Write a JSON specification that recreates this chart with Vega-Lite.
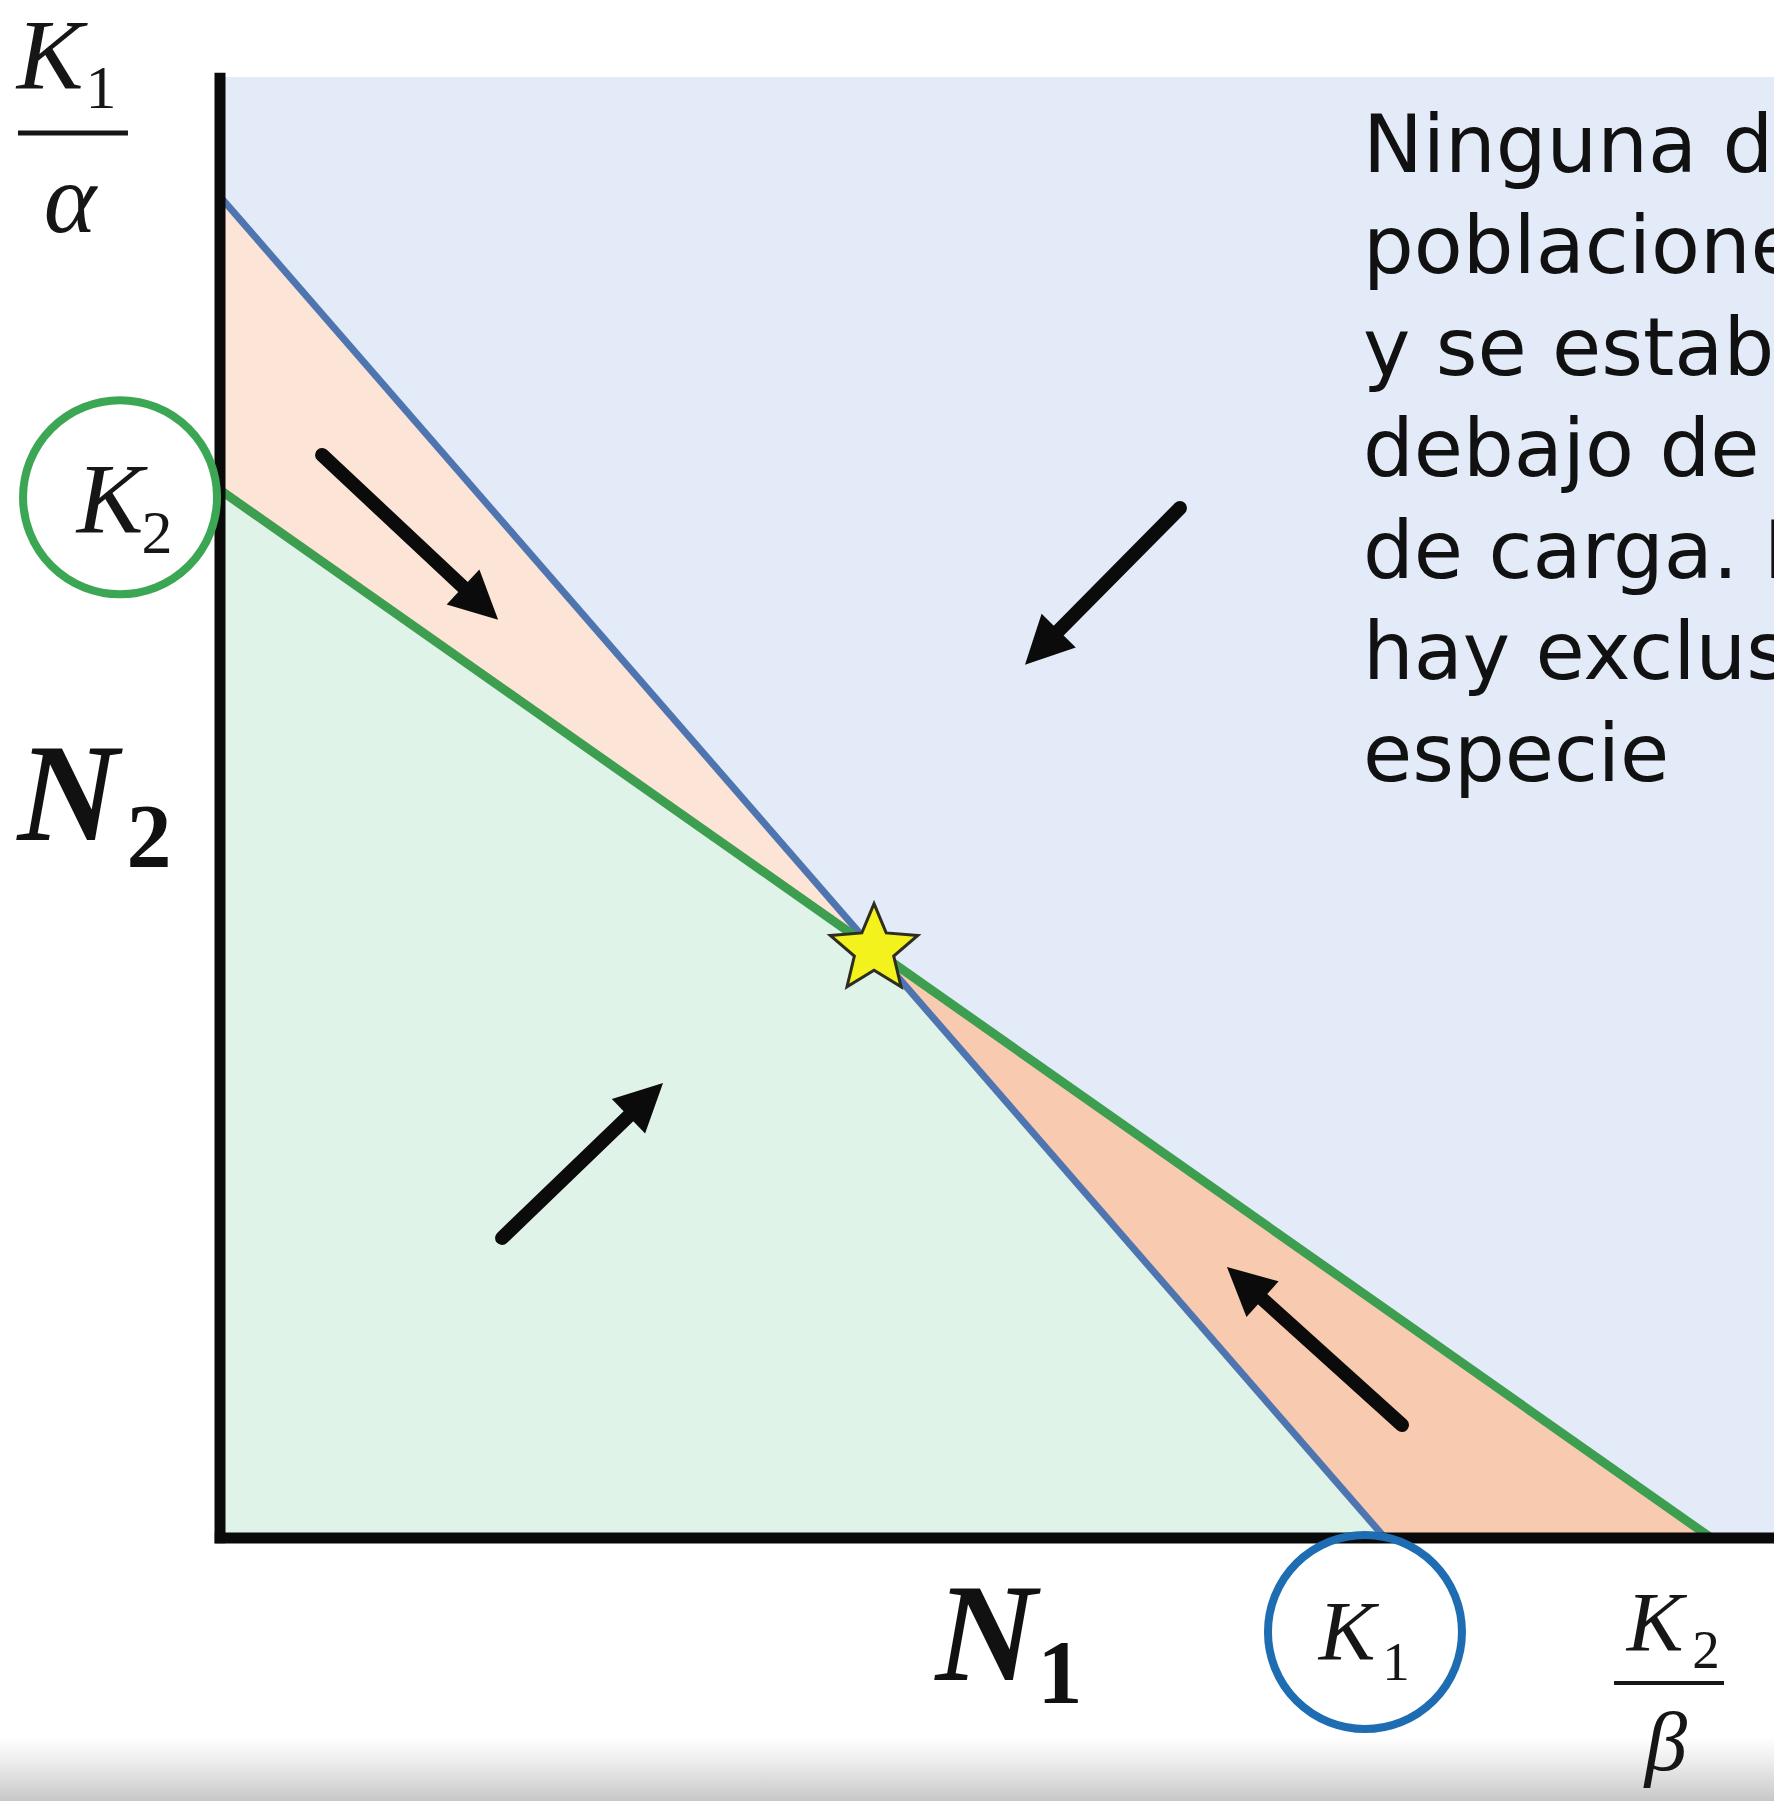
{
  "$schema": "https://vega.github.io/schema/vega-lite/v6.json",
  "width": 1554,
  "height": 1461,
  "autosize": {"type": "none"},
  "padding": {"left": 220, "top": 77, "right": 0, "bottom": 263},
  "background": "#ffffff",
  "view": {"fill": "#e2ebf7", "stroke": null},
  "data": {"values": [{}]},
  "datasets": {
    "zones": [
      {"zone": "both grow", "n1": 0, "top": 100, "bottom": 0},
      {"zone": "both grow", "n1": 56.14, "top": 56.14, "bottom": 0},
      {"zone": "both grow", "n1": 100, "top": 0, "bottom": 0},
      {"zone": "N1 grows, N2 falls", "n1": 0, "top": 128, "bottom": 100},
      {"zone": "N1 grows, N2 falls", "n1": 56.14, "top": 56.14, "bottom": 56.14},
      {"zone": "N1 falls, N2 grows", "n1": 56.14, "top": 56.14, "bottom": 56.14},
      {"zone": "N1 falls, N2 grows", "n1": 100, "top": 21.875, "bottom": 0},
      {"zone": "N1 falls, N2 grows", "n1": 128, "top": 0, "bottom": 0}
    ],
    "isoclines": [
      {"species": "N1", "n1": 0, "n2": 128},
      {"species": "N1", "n1": 100, "n2": 0},
      {"species": "N2", "n1": 0, "n2": 100},
      {"species": "N2", "n1": 128, "n2": 0}
    ],
    "trajectories": [
      {"n1_from": 8.76, "n2_from": 103.34, "n1_to": 20.86, "n2_to": 90.74, "heading": 43},
      {"n1_from": 82.4, "n2_from": 98.28, "n1_to": 71.99, "n2_to": 86.57, "heading": 134.6},
      {"n1_from": 24.21, "n2_from": 28.63, "n1_to": 35.06, "n2_to": 40.24, "heading": 316.1},
      {"n1_from": 101.46, "n2_from": 10.78, "n1_to": 89.49, "n2_to": 22.79, "heading": 222.1}
    ],
    "equilibrium": [{"n1": 56.14, "n2": 56.14}],
    "capacities": [
      {"species": "N2", "n1": -8.58, "n2": 99.3},
      {"species": "N1", "n1": 98.28, "n2": -8.97}
    ]
  },
  "layer": [
    {
      "data": {"name": "zones"},
      "mark": {"type": "area", "interpolate": "linear"},
      "encoding": {
        "x": {"field": "n1", "type": "quantitative", "scale": {"domain": [0, 133.39], "nice": false, "zero": false}, "axis": null},
        "y": {"field": "top", "type": "quantitative", "stack": null, "scale": {"domain": [0, 139.4], "nice": false, "zero": false}, "axis": null},
        "y2": {"field": "bottom"},
        "color": {
          "field": "zone", "type": "nominal", "legend": null,
          "scale": {"domain": ["both grow", "N1 grows, N2 falls", "N1 falls, N2 grows"], "range": ["#e0f3e8", "#fce4d6", "#f8cbb0"]}
        }
      }
    },
    {
      "mark": {
        "type": "rect",
        "fill": {"gradient": "linear", "x1": 0, "y1": 0, "x2": 0, "y2": 1,
          "stops": [{"offset": 0, "color": "#ffffff"}, {"offset": 0.4, "color": "#ececec"}, {"offset": 1, "color": "#c6c6c6"}]}
      },
      "encoding": {
        "x": {"datum": -18.9, "type": "quantitative", "scale": {"domain": [0, 133.39], "nice": false, "zero": false}, "axis": null},
        "x2": {"datum": 133.39},
        "y": {"datum": -19.0, "type": "quantitative", "scale": {"domain": [0, 139.4], "nice": false, "zero": false}, "axis": null},
        "y2": {"datum": -25.2}
      }
    },
    {
      "data": {"name": "isoclines"},
      "transform": [{"filter": "datum.species === 'N1'"}],
      "mark": {"type": "line", "color": "#4f75b0", "strokeWidth": 7},
      "encoding": {
        "x": {"field": "n1", "type": "quantitative", "scale": {"domain": [0, 133.39], "nice": false, "zero": false}, "axis": null},
        "y": {"field": "n2", "type": "quantitative", "scale": {"domain": [0, 139.4], "nice": false, "zero": false}, "axis": null}
      }
    },
    {
      "data": {"name": "isoclines"},
      "transform": [{"filter": "datum.species === 'N2'"}],
      "mark": {"type": "line", "color": "#3d9e50", "strokeWidth": 9},
      "encoding": {
        "x": {"field": "n1", "type": "quantitative", "scale": {"domain": [0, 133.39], "nice": false, "zero": false}, "axis": null},
        "y": {"field": "n2", "type": "quantitative", "scale": {"domain": [0, 139.4], "nice": false, "zero": false}, "axis": null}
      }
    },
    {
      "mark": {"type": "rule", "color": "#0a0a0a", "strokeWidth": 11},
      "encoding": {
        "x": {"datum": 0, "type": "quantitative", "scale": {"domain": [0, 133.39], "nice": false, "zero": false}, "axis": null},
        "y": {"datum": -0.5, "type": "quantitative", "scale": {"domain": [0, 139.4], "nice": false, "zero": false}, "axis": null},
        "y2": {"datum": 139.8}
      }
    },
    {
      "mark": {"type": "rule", "color": "#0a0a0a", "strokeWidth": 11},
      "encoding": {
        "x": {"datum": -0.45, "type": "quantitative", "scale": {"domain": [0, 133.39], "nice": false, "zero": false}, "axis": null},
        "x2": {"datum": 133.39},
        "y": {"datum": 0, "type": "quantitative", "scale": {"domain": [0, 139.4], "nice": false, "zero": false}, "axis": null}
      }
    },
    {
      "data": {"name": "trajectories"},
      "mark": {"type": "rule", "color": "#0b0b0b", "strokeWidth": 14, "strokeCap": "round"},
      "encoding": {
        "x": {"field": "n1_from", "type": "quantitative", "scale": {"domain": [0, 133.39], "nice": false, "zero": false}, "axis": null},
        "y": {"field": "n2_from", "type": "quantitative", "scale": {"domain": [0, 139.4], "nice": false, "zero": false}, "axis": null},
        "x2": {"field": "n1_to"},
        "y2": {"field": "n2_to"}
      }
    },
    {
      "data": {"name": "trajectories"},
      "mark": {"type": "point", "shape": "M0,-1L2,0L0,1Z", "size": 2304, "filled": true, "color": "#0b0b0b", "opacity": 1},
      "encoding": {
        "x": {"field": "n1_to", "type": "quantitative", "scale": {"domain": [0, 133.39], "nice": false, "zero": false}, "axis": null},
        "y": {"field": "n2_to", "type": "quantitative", "scale": {"domain": [0, 139.4], "nice": false, "zero": false}, "axis": null},
        "angle": {"field": "heading", "type": "quantitative", "scale": null}
      }
    },
    {
      "data": {"name": "capacities"},
      "mark": {"type": "point", "shape": "circle", "size": 37636, "filled": false, "strokeWidth": 8, "opacity": 1},
      "encoding": {
        "x": {"field": "n1", "type": "quantitative", "scale": {"domain": [0, 133.39], "nice": false, "zero": false}, "axis": null},
        "y": {"field": "n2", "type": "quantitative", "scale": {"domain": [0, 139.4], "nice": false, "zero": false}, "axis": null},
        "stroke": {"field": "species", "type": "nominal", "legend": null, "scale": {"domain": ["N1", "N2"], "range": ["#1e6db3", "#3ba653"]}}
      }
    },
    {
      "data": {"name": "equilibrium"},
      "mark": {
        "type": "point",
        "shape": "M0,-1L0.2645,-0.364L0.951,-0.309L0.428,0.139L0.588,0.809L0,0.45L-0.588,0.809L-0.428,0.139L-0.951,-0.309L-0.2645,-0.364Z",
        "size": 8464, "filled": true, "fill": "#f3f21c", "stroke": "#2d2d20", "strokeWidth": 3, "opacity": 1
      },
      "encoding": {
        "x": {"field": "n1", "type": "quantitative", "scale": {"domain": [0, 133.39], "nice": false, "zero": false}, "axis": null},
        "y": {"field": "n2", "type": "quantitative", "scale": {"domain": [0, 139.4], "nice": false, "zero": false}, "axis": null}
      }
    },
    {
      "mark": {"type": "text", "text": "K", "font": "Liberation Serif", "fontStyle": "italic", "fontSize": 100, "align": "center", "baseline": "alphabetic", "color": "#161616"},
      "encoding": {
        "x": {"datum": -14.59, "type": "quantitative", "scale": {"domain": [0, 133.39], "nice": false, "zero": false}, "axis": null},
        "y": {"datum": 138.36, "type": "quantitative", "scale": {"domain": [0, 139.4], "nice": false, "zero": false}, "axis": null}
      }
    },
    {
      "mark": {"type": "text", "text": "1", "font": "Liberation Serif", "fontSize": 62, "align": "center", "baseline": "alphabetic", "color": "#161616"},
      "encoding": {
        "x": {"datum": -10.21, "type": "quantitative", "scale": {"domain": [0, 133.39], "nice": false, "zero": false}, "axis": null},
        "y": {"datum": 136.45, "type": "quantitative", "scale": {"domain": [0, 139.4], "nice": false, "zero": false}, "axis": null}
      }
    },
    {
      "mark": {"type": "rule", "color": "#161616", "strokeWidth": 5},
      "encoding": {
        "x": {"datum": -17.34, "type": "quantitative", "scale": {"domain": [0, 133.39], "nice": false, "zero": false}, "axis": null},
        "x2": {"datum": -7.9},
        "y": {"datum": 134.06, "type": "quantitative", "scale": {"domain": [0, 139.4], "nice": false, "zero": false}, "axis": null}
      }
    },
    {
      "mark": {"type": "text", "text": "α", "font": "Liberation Serif", "fontStyle": "italic", "fontSize": 100, "align": "center", "baseline": "alphabetic", "color": "#161616"},
      "encoding": {
        "x": {"datum": -12.88, "type": "quantitative", "scale": {"domain": [0, 133.39], "nice": false, "zero": false}, "axis": null},
        "y": {"datum": 124.62, "type": "quantitative", "scale": {"domain": [0, 139.4], "nice": false, "zero": false}, "axis": null}
      }
    },
    {
      "mark": {"type": "text", "text": "K", "font": "Liberation Serif", "fontStyle": "italic", "fontSize": 100, "align": "center", "baseline": "alphabetic", "color": "#161616"},
      "encoding": {
        "x": {"datum": -9.44, "type": "quantitative", "scale": {"domain": [0, 133.39], "nice": false, "zero": false}, "axis": null},
        "y": {"datum": 96.0, "type": "quantitative", "scale": {"domain": [0, 139.4], "nice": false, "zero": false}, "axis": null}
      }
    },
    {
      "mark": {"type": "text", "text": "2", "font": "Liberation Serif", "fontSize": 62, "align": "center", "baseline": "alphabetic", "color": "#161616"},
      "encoding": {
        "x": {"datum": -5.41, "type": "quantitative", "scale": {"domain": [0, 133.39], "nice": false, "zero": false}, "axis": null},
        "y": {"datum": 94.0, "type": "quantitative", "scale": {"domain": [0, 139.4], "nice": false, "zero": false}, "axis": null}
      }
    },
    {
      "mark": {"type": "text", "text": "N", "font": "Liberation Serif", "fontStyle": "italic", "fontWeight": "bold", "fontSize": 140, "align": "center", "baseline": "alphabetic", "color": "#111111"},
      "encoding": {
        "x": {"datum": -13.05, "type": "quantitative", "scale": {"domain": [0, 133.39], "nice": false, "zero": false}, "axis": null},
        "y": {"datum": 66.6, "type": "quantitative", "scale": {"domain": [0, 139.4], "nice": false, "zero": false}, "axis": null}
      }
    },
    {
      "mark": {"type": "text", "text": "2", "font": "Liberation Serif", "fontWeight": "bold", "fontSize": 90, "align": "center", "baseline": "alphabetic", "color": "#111111"},
      "encoding": {
        "x": {"datum": -6.09, "type": "quantitative", "scale": {"domain": [0, 133.39], "nice": false, "zero": false}, "axis": null},
        "y": {"datum": 64.03, "type": "quantitative", "scale": {"domain": [0, 139.4], "nice": false, "zero": false}, "axis": null}
      }
    },
    {
      "mark": {"type": "text", "text": "N", "font": "Liberation Serif", "fontStyle": "italic", "fontWeight": "bold", "fontSize": 140, "align": "center", "baseline": "alphabetic", "color": "#111111"},
      "encoding": {
        "x": {"datum": 65.75, "type": "quantitative", "scale": {"domain": [0, 133.39], "nice": false, "zero": false}, "axis": null},
        "y": {"datum": -13.55, "type": "quantitative", "scale": {"domain": [0, 139.4], "nice": false, "zero": false}, "axis": null}
      }
    },
    {
      "mark": {"type": "text", "text": "1", "font": "Liberation Serif", "fontWeight": "bold", "fontSize": 90, "align": "center", "baseline": "alphabetic", "color": "#111111"},
      "encoding": {
        "x": {"datum": 72.1, "type": "quantitative", "scale": {"domain": [0, 133.39], "nice": false, "zero": false}, "axis": null},
        "y": {"datum": -15.74, "type": "quantitative", "scale": {"domain": [0, 139.4], "nice": false, "zero": false}, "axis": null}
      }
    },
    {
      "mark": {"type": "text", "text": "K", "font": "Liberation Serif", "fontStyle": "italic", "fontSize": 85, "align": "center", "baseline": "alphabetic", "color": "#161616"},
      "encoding": {
        "x": {"datum": 96.74, "type": "quantitative", "scale": {"domain": [0, 133.39], "nice": false, "zero": false}, "axis": null},
        "y": {"datum": -11.64, "type": "quantitative", "scale": {"domain": [0, 139.4], "nice": false, "zero": false}, "axis": null}
      }
    },
    {
      "mark": {"type": "text", "text": "1", "font": "Liberation Serif", "fontSize": 55, "align": "center", "baseline": "alphabetic", "color": "#161616"},
      "encoding": {
        "x": {"datum": 100.94, "type": "quantitative", "scale": {"domain": [0, 133.39], "nice": false, "zero": false}, "axis": null},
        "y": {"datum": -13.55, "type": "quantitative", "scale": {"domain": [0, 139.4], "nice": false, "zero": false}, "axis": null}
      }
    },
    {
      "mark": {"type": "text", "text": "K", "font": "Liberation Serif", "fontStyle": "italic", "fontSize": 85, "align": "center", "baseline": "alphabetic", "color": "#161616"},
      "encoding": {
        "x": {"datum": 123.18, "type": "quantitative", "scale": {"domain": [0, 133.39], "nice": false, "zero": false}, "axis": null},
        "y": {"datum": -10.78, "type": "quantitative", "scale": {"domain": [0, 139.4], "nice": false, "zero": false}, "axis": null}
      }
    },
    {
      "mark": {"type": "text", "text": "2", "font": "Liberation Serif", "fontSize": 55, "align": "center", "baseline": "alphabetic", "color": "#161616"},
      "encoding": {
        "x": {"datum": 127.55, "type": "quantitative", "scale": {"domain": [0, 133.39], "nice": false, "zero": false}, "axis": null},
        "y": {"datum": -12.4, "type": "quantitative", "scale": {"domain": [0, 139.4], "nice": false, "zero": false}, "axis": null}
      }
    },
    {
      "mark": {"type": "rule", "color": "#161616", "strokeWidth": 4},
      "encoding": {
        "x": {"datum": 119.66, "type": "quantitative", "scale": {"domain": [0, 133.39], "nice": false, "zero": false}, "axis": null},
        "x2": {"datum": 129.1},
        "y": {"datum": -13.84, "type": "quantitative", "scale": {"domain": [0, 139.4], "nice": false, "zero": false}, "axis": null}
      }
    },
    {
      "mark": {"type": "text", "text": "β", "font": "Liberation Serif", "fontStyle": "italic", "fontSize": 85, "align": "center", "baseline": "alphabetic", "color": "#161616"},
      "encoding": {
        "x": {"datum": 124.12, "type": "quantitative", "scale": {"domain": [0, 133.39], "nice": false, "zero": false}, "axis": null},
        "y": {"datum": -22.14, "type": "quantitative", "scale": {"domain": [0, 139.4], "nice": false, "zero": false}, "axis": null}
      }
    },
    {
      "mark": {
        "type": "text",
        "text": ["Ninguna de las", "poblaciones desaparece", "y se estabilizan por", "debajo de la capacidad", "de carga. No", "hay exclusión de", "especie"],
        "font": "DejaVu Sans", "fontWeight": "normal", "fontSize": 80, "lineHeight": 101.5,
        "align": "left", "baseline": "alphabetic", "color": "#111111"
      },
      "encoding": {
        "x": {"datum": 98.11, "type": "quantitative", "scale": {"domain": [0, 133.39], "nice": false, "zero": false}, "axis": null},
        "y": {"datum": 130.34, "type": "quantitative", "scale": {"domain": [0, 139.4], "nice": false, "zero": false}, "axis": null}
      }
    }
  ]
}
